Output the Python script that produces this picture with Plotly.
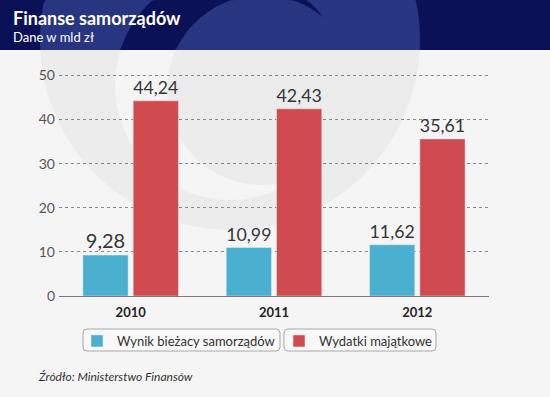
import numpy as np
import plotly.graph_objects as go

# ---- data ----
years = ["2010", "2011", "2012"]
wynik = [9.28, 10.99, 11.62]
wydatki = [44.24, 42.43, 35.61]
series_names = ["Wynik bieżacy samorządów", "Wydatki majątkowe"]
y_ticks = [0, 10, 20, 30, 40, 50]
title = "Finanse samorządów"
subtitle = "Dane w mld zł"
source = "Źródło: Ministerstwo Finansów"

# ---- geometry (pixels) ----
W, H = 550, 397
L, R, T, B = 59, 61, 71, 101
PW, PH = W - L - R, H - T - B


def px(x):
    return (x - L) / PW


def py(y):
    return (H - B - y) / PH


def rounded_rect(x0, y0, x1, y1, r):
    pts = [
        f"M {px(x0 + r)},{py(y0)}", f"L {px(x1 - r)},{py(y0)}",
        f"Q {px(x1)},{py(y0)} {px(x1)},{py(y0 + r)}", f"L {px(x1)},{py(y1 - r)}",
        f"Q {px(x1)},{py(y1)} {px(x1 - r)},{py(y1)}", f"L {px(x0 + r)},{py(y1)}",
        f"Q {px(x0)},{py(y1)} {px(x0)},{py(y1 - r)}", f"L {px(x0)},{py(y0 + r)}",
        f"Q {px(x0)},{py(y0)} {px(x0 + r)},{py(y0)}", "Z",
    ]
    return " ".join(pts)


BG = "#f5f5f5"
GRAY = "#ececec"
NAVY = "#0b1157"
NAVY_L = "#283580"
FONT = "Lato, 'Open Sans', sans-serif"

fig = go.Figure()
fig.add_trace(go.Bar(x=years, y=wynik, name=series_names[0], marker_color="#4bafd0",
                     texttemplate="%{y:.2f}", textposition="outside", cliponaxis=False,
                     textfont=dict(size=20, color="#363636", family=FONT),
                     legend="legend", showlegend=True))
fig.add_trace(go.Bar(x=years, y=wydatki, name=series_names[1], marker_color="#cf4b4f",
                     texttemplate="%{y:.2f}", textposition="outside", cliponaxis=False,
                     textfont=dict(size=20, color="#363636", family=FONT),
                     legend="legend2", showlegend=True))

shapes = []
# watermark discs (outer, hole, inner) in pixel space
discs = [((230, 40, 190), GRAY, NAVY_L), ((230, 85, 115), BG, NAVY), ((262, 90, 95), GRAY, NAVY_L)]
for (cx, cy, r), body_col, _ in discs:
    shapes.append(dict(type="circle", xref="paper", yref="paper", layer="below",
                       x0=px(cx - r), x1=px(cx + r), y0=py(cy + r), y1=py(cy - r),
                       fillcolor=body_col, line=dict(width=0)))
# header band
shapes.append(dict(type="rect", xref="paper", yref="paper", layer="below",
                   x0=px(0), x1=px(W), y0=py(50), y1=py(0), fillcolor=NAVY, line=dict(width=0)))
# watermark inside header (clipped to band)
t = np.linspace(0, 2 * np.pi, 120)
for (cx, cy, r), _, head_col in discs:
    xs = cx + r * np.cos(t)
    ys = np.clip(cy + r * np.sin(t), 0, 50)
    path = "M " + " L ".join(f"{px(a):.4f},{py(b):.4f}" for a, b in zip(xs, ys)) + " Z"
    shapes.append(dict(type="path", xref="paper", yref="paper", layer="below", path=path,
                       fillcolor=head_col, line=dict(width=0)))
# rounded frames around the legend entries
for bx0, bx1 in [(83, 280), (284, 436)]:
    shapes.append(dict(type="path", xref="paper", yref="paper", layer="below",
                       path=rounded_rect(bx0, 329, bx1, 351, 4),
                       fillcolor="rgba(255,255,255,0.35)", line=dict(color="#a8a8a8", width=1)))

annotations = [
    dict(text=f"<b>{title}</b>", x=px(11), y=py(18), xref="paper", yref="paper",
         xanchor="left", yanchor="middle", showarrow=False,
         font=dict(size=18, color="white", family=FONT)),
    dict(text=subtitle, x=px(11), y=py(37), xref="paper", yref="paper",
         xanchor="left", yanchor="middle", showarrow=False,
         font=dict(size=13, color="white", family=FONT)),
    dict(text=f"<i>{source}</i>", x=px(36), y=py(376), xref="paper", yref="paper",
         xanchor="left", yanchor="middle", showarrow=False,
         font=dict(size=12, color="#333333", family=FONT)),
]

legend_common = dict(yanchor="top", xanchor="left", orientation="h",
                     borderwidth=0, bgcolor="rgba(0,0,0,0)",
                     font=dict(size=13, color="#333333", family=FONT))

fig.update_layout(
    width=W, height=H,
    margin=dict(l=L, r=R, t=T, b=B, pad=0, autoexpand=False),
    paper_bgcolor=BG, plot_bgcolor="rgba(0,0,0,0)",
    separators=", ",
    showlegend=True,
    barmode="group", bargap=0.298, bargroupgap=0.1,
    font=dict(family=FONT, color="#333333"),
    shapes=shapes, annotations=annotations,
    xaxis=dict(showgrid=False, showline=True, linecolor="#7a7a7a", linewidth=1,
               ticks="", tickfont=dict(size=13, color="#222222", family=FONT, weight="bold"),
               ticklabelstandoff=4),
    yaxis=dict(range=[0, 51], tickvals=y_ticks, showgrid=True, gridcolor="#8a8a8a",
               griddash="dot", gridwidth=1, zeroline=False, showline=False, ticks="",
               tickfont=dict(size=14, color="#555555", family=FONT), ticklabelstandoff=3),
    legend=dict(x=px(77), y=py(326), **legend_common),
    legend2=dict(x=px(279), y=py(326), **legend_common),
)

fig.write_html("out.html", config={"displayModeBar": False},
               post_script="document.body.style.margin='0';document.body.style.padding='0';"
                           "document.body.style.overflow='hidden';")
